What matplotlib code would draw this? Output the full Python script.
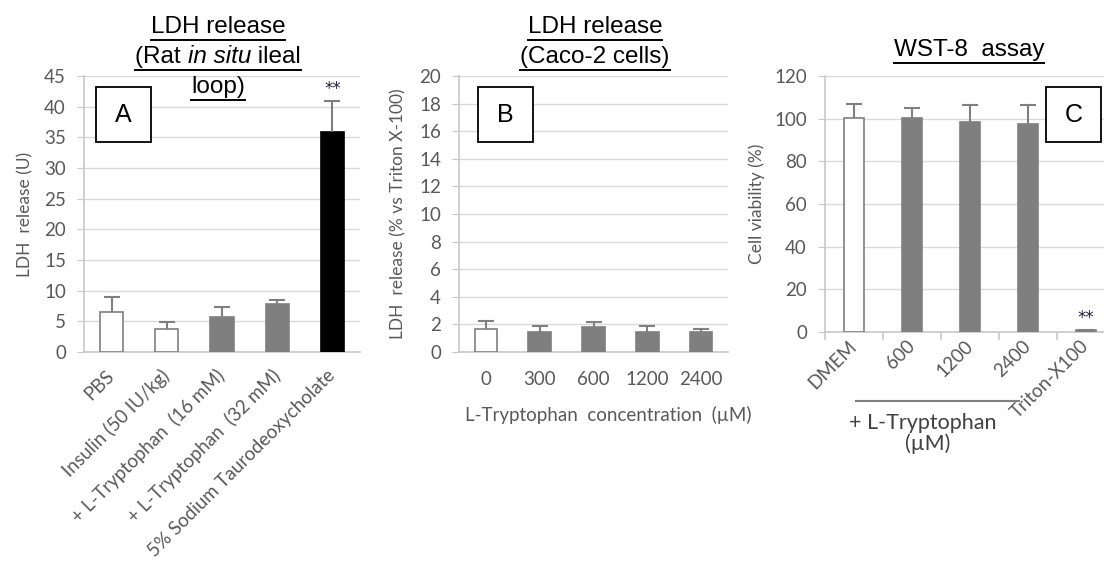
import matplotlib
matplotlib.use('Agg')
import matplotlib.pyplot as plt
from matplotlib.patches import Rectangle
from matplotlib.lines import Line2D
import numpy as np

# panel A: rat in situ ileal loop, LDH (U)
a_labels = ['PBS', 'Insulin (50 IU/kg)', '+ L-Tryptophan  (16 mM)',
            '+ L-Tryptophan  (32 mM)', '5% Sodium Taurodeoxycholate']
a_mean = [6.6, 3.8, 5.7, 7.8, 35.9]
a_upper = [9.0, 4.9, 7.3, 8.5, 41.0]
a_colors = ['white', 'white', '#7f7f7f', '#7f7f7f', 'black']

# panel B: Caco-2 LDH (% vs Triton X-100)
b_labels = ['0', '300', '600', '1200', '2400']
b_mean = [1.67, 1.45, 1.8, 1.45, 1.45]
b_upper = [2.26, 1.85, 2.15, 1.85, 1.67]
b_colors = ['white', '#7f7f7f', '#7f7f7f', '#7f7f7f', '#7f7f7f']

# panel C: WST-8 viability (%)
c_labels = ['DMEM', '600', '1200', '2400', 'Triton-X100']
c_mean = [100.1, 100.5, 98.4, 97.7, 1.0]
c_upper = [107.0, 105.0, 106.4, 106.4, 1.0]
c_colors = ['white', '#7f7f7f', '#7f7f7f', '#7f7f7f', '#7f7f7f']

W, H = 1104, 567
TXT = '#595959'
GRID = '#d9d9d9'
AXL = '#c8c8c8'
TICKFONT = 'Lato'

fig = plt.figure(figsize=(W / 100, H / 100), dpi=100)
renderer = fig.canvas.get_renderer()


def px_axes(l, r, t, b):
    return fig.add_axes([l / W, 1 - b / H, (r - l) / W, (b - t) / H])


def style_axes(ax, ymax, ystep):
    ax.set_xlim(-0.5, 4.5)
    ax.set_ylim(0, ymax)
    ax.set_yticks(np.arange(0, ymax + 0.01, ystep))
    ax.yaxis.grid(True, color=GRID, lw=1)
    ax.set_axisbelow(True)
    for s in ['top', 'right']:
        ax.spines[s].set_visible(False)
    for s in ['left', 'bottom']:
        ax.spines[s].set_color(AXL)
        ax.spines[s].set_linewidth(1.2)
    ax.tick_params(axis='y', length=5, color=AXL, pad=8, labelsize=13.5, labelcolor=TXT)
    ax.tick_params(axis='x', length=0, labelsize=13, labelcolor=TXT)
    for lab in ax.get_yticklabels():
        lab.set_family(TICKFONT)


def draw_bars(ax, means, upper, colors, width):
    x = np.arange(len(means))
    edges = ['#7f7f7f' if c == 'white' else c for c in colors]
    ax.bar(x, means, width, color=colors, edgecolor=edges, linewidth=1.2, zorder=3)
    err = np.array(upper) - np.array(means)
    eb = ax.errorbar(x, means, yerr=[np.zeros_like(err), err], fmt='none',
                     ecolor='#7f7f7f', elinewidth=1.5, capsize=6, capthick=1.5, zorder=4)
    eb[1][0].set_visible(False)


def title_line(cx, cy, parts, size=17.5):
    texts = []
    for s, st in parts:
        t = fig.text(0, 1 - cy / H, s, fontsize=size, style=st, family='Liberation Sans',
                     va='center', ha='left', color='black')
        texts.append(t)
    widths = [t.get_window_extent(renderer).width for t in texts]
    total = sum(widths)
    x = cx - total / 2
    for t, w in zip(texts, widths):
        t.set_x(x / W)
        x += w
    yl = 1 - (cy + 12.5) / H
    fig.add_artist(Line2D([(cx - total / 2) / W, (cx + total / 2) / W], [yl, yl],
                          color='black', lw=1.4))


def letter_box(l, t, letter):
    fig.add_artist(Rectangle((l / W, 1 - (t + 55) / H), 55 / W, 55 / H,
                             fill=True, facecolor='white', edgecolor='black', lw=1.3,
                             transform=fig.transFigure, zorder=5))
    fig.text((l + 27.5) / W, 1 - (t + 28) / H, letter, fontsize=18, family='Liberation Sans',
             ha='center', va='center', zorder=6)


# ---- panel A
axA = px_axes(84, 360, 76, 352)
style_axes(axA, 45, 5)
draw_bars(axA, a_mean, a_upper, a_colors, 0.42)
axA.set_xticks(range(5))
axA.set_xticklabels(a_labels, rotation=45, ha='right', va='center',
                    rotation_mode='anchor', family=TICKFONT, fontsize=13.5)
axA.tick_params(axis='x', pad=15)
axA.text(4, 42.8, '**', ha='center', va='center', fontsize=12, color='#1f1f3f')
axA.set_ylabel('LDH  release (U)', fontsize=12.5, color=TXT, family=TICKFONT)
axA.yaxis.set_label_coords(-0.185, 0.5)

# ---- panel B
axB = px_axes(459, 728, 76, 352)
style_axes(axB, 20, 2)
draw_bars(axB, b_mean, b_upper, b_colors, 0.42)
axB.set_xticks(range(5))
axB.set_xticklabels(b_labels, family=TICKFONT, fontsize=13.5)
axB.tick_params(axis='x', pad=14)
axB.set_xlabel('L-Tryptophan  concentration  (\u00b5M)', fontsize=13.5, color=TXT, family=TICKFONT)
axB.xaxis.set_label_coords(0.554, -0.197)
axB.set_ylabel('LDH  release (% vs Triton X-100)', fontsize=12.5, color=TXT, family=TICKFONT)
axB.yaxis.set_label_coords(-0.197, 0.5)

# ---- panel C
axC = px_axes(825, 1115, 76, 332)
style_axes(axC, 120, 20)
draw_bars(axC, c_mean, c_upper, c_colors, 0.33)
axC.set_xticks(range(5))
axC.set_xticklabels(c_labels, rotation=45, ha='right', va='center',
                    rotation_mode='anchor', family=TICKFONT, fontsize=13.5)
axC.set_xticks(np.arange(-0.5, 5, 1), minor=True)
axC.tick_params(axis='x', which='minor', length=6, color=AXL, width=1.2)
axC.tick_params(axis='x', which='major', pad=8)
axC.text(4, 6.5, '**', ha='center', va='center', fontsize=12, color='#1f1f3f')
axC.set_ylabel('Cell viability (%)', fontsize=12.5, color=TXT, family=TICKFONT)
axC.yaxis.set_label_coords(-0.207, 0.5)

# group label under panel C
fig.add_artist(Line2D([856 / W, 1019 / W], [1 - 401 / H, 1 - 401 / H], color='#7f7f7f', lw=1.5))
fig.text(923 / W, 1 - 423 / H, '+ L-Tryptophan', ha='center', va='center',
         fontsize=15.5, color='#404040', family=TICKFONT)
fig.text(928 / W, 1 - 444 / H, '(\u00b5M)', ha='center', va='center',
         fontsize=15.5, color='#404040', family=TICKFONT)

# titles
title_line(218, 27, [('LDH release', 'normal')])
title_line(218, 57, [('(Rat ', 'normal'), ('in situ', 'italic'), (' ileal', 'normal')])
title_line(218, 87, [('loop)', 'normal')])
title_line(595, 27, [('LDH release', 'normal')])
title_line(595, 57, [('(Caco-2 cells)', 'normal')])
title_line(969, 50, [('WST-8  assay', 'normal')])

letter_box(96, 87, 'A')
letter_box(478, 87, 'B')
letter_box(1046, 87, 'C')

fig.savefig('out.png', dpi=100)
